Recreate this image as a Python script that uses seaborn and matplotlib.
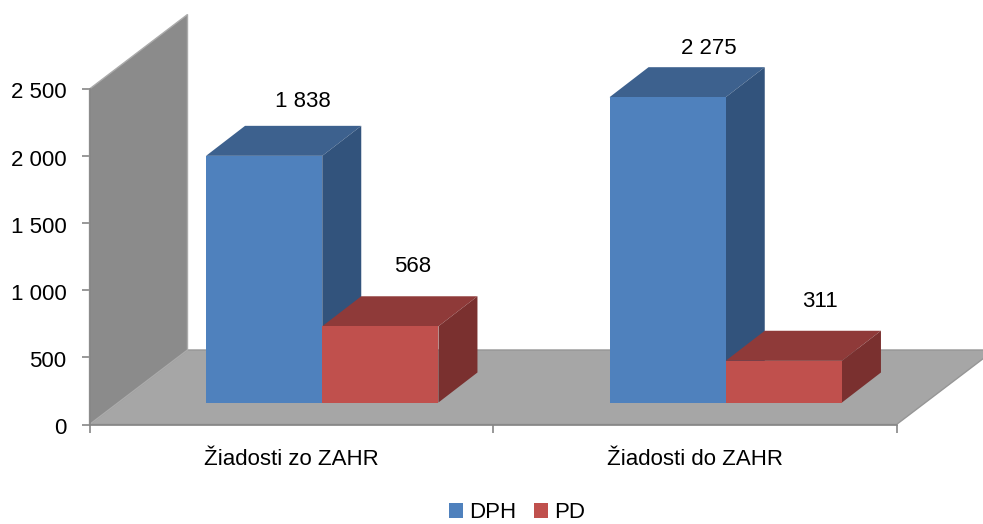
import numpy as np
import pandas as pd
import matplotlib
matplotlib.use('Agg')
import matplotlib.pyplot as plt
import seaborn as sns
from matplotlib.patches import Polygon
from matplotlib.transforms import ScaledTranslation

categories = ['Žiadosti zo ZAHR', 'Žiadosti do ZAHR']
dph_values = [1838, 2275]
pd_values = [568, 311]
series_names = ['DPH', 'PD']
y_ticks = [0, 500, 1000, 1500, 2000, 2500]

df = pd.DataFrame({
    'category': categories * 2,
    'series': [series_names[0]] * 2 + [series_names[1]] * 2,
    'value': dph_values + pd_values,
})


def spaced(v):
    return f'{int(v):,}'.replace(',', ' ')


sns.set_theme(style='white')
plt.rcParams['font.family'] = ['Liberation Sans', 'DejaVu Sans']

W, H = 983, 524
fig = plt.figure(figsize=(W / 100, H / 100), dpi=100)
ax = fig.add_axes([89.5 / W, 1 - 424.5 / H, 807 / W, 335.5 / H])

colors = {'DPH': '#4F81BD', 'PD': '#C0504D'}
top_colors = {'DPH': '#3D618E', 'PD': '#8F3A39'}
side_colors = {'DPH': '#32537C', 'PD': '#7A302F'}

sns.barplot(data=df, x='category', y='value', hue='series', order=categories,
            hue_order=series_names, palette=colors, width=0.576, gap=0,
            saturation=1, linewidth=0, ax=ax)
ax.set_xlim(-0.5, 1.5)
ax.set_ylim(0, 2500)

# px to data units, the 3d look is only pixel offsets
px_x = 2 / 807
px_y = 2500 / 335.5
wall_dx, wall_dy = 98 * px_x, 74.5 * px_y
bar_dx, bar_dy = 39 * px_x, 30 * px_y
front_dx, front_dy = 31 * px_x, 22 * px_y

x0, x1 = -0.5, 1.5
floor = Polygon([(x0, 0), (x1, 0), (x1 + wall_dx, wall_dy), (x0 + wall_dx, wall_dy)],
                closed=True, facecolor='#A6A6A6', edgecolor='#969696', lw=1,
                clip_on=False, zorder=1)
wall = Polygon([(x0, 0), (x0, 2500), (x0 + wall_dx, 2500 + wall_dy), (x0 + wall_dx, wall_dy)],
               closed=True, facecolor='#8B8B8B', edgecolor='#ABABAB', lw=1,
               clip_on=False, zorder=1)
ax.add_patch(floor)
ax.add_patch(wall)

# label nudges in px, the labels were moved by hand in the original
nudges = {('DPH', 0): (0, 24), ('DPH', 1): (2, 19), ('PD', 0): (-7, 30), ('PD', 1): (-3, 29)}

bars = [b for c in ax.containers for b in c]
names = [s for s in series_names for _ in categories]
order = sorted(range(len(bars)), key=lambda i: bars[i].get_x())
for n, i in enumerate(order):
    bar = bars[i]
    name = names[i]
    cat = int(round(bar.get_x() + bar.get_width() / 2))
    h = bar.get_height()
    left = bar.get_x() + front_dx
    right = left + bar.get_width()
    base = front_dy
    z = 3 + n * 0.1
    bar.set_x(left)
    bar.set_y(base)
    bar.set_clip_on(False)
    bar.set_zorder(z + 0.02)
    ax.add_patch(Polygon([(left, base + h), (right, base + h),
                          (right + bar_dx, base + h + bar_dy), (left + bar_dx, base + h + bar_dy)],
                         closed=True, facecolor=top_colors[name], edgecolor='none',
                         clip_on=False, zorder=z))
    ax.add_patch(Polygon([(right, base), (right + bar_dx, base + bar_dy),
                          (right + bar_dx, base + h + bar_dy), (right, base + h)],
                         closed=True, facecolor=side_colors[name], edgecolor='none',
                         clip_on=False, zorder=z + 0.01))
    nx, ny = nudges[(name, cat)]
    ax.text((left + right) / 2 + bar_dx + nx * px_x, base + h + bar_dy + ny * px_y, spaced(h),
            ha='center', va='center', fontsize=16, color='black', zorder=6, clip_on=False)

sns.despine(ax=ax, top=True, right=True)
for s in ['left', 'bottom']:
    ax.spines[s].set_color('#868686')
    ax.spines[s].set_linewidth(1.2)
    ax.spines[s].set_zorder(2)

ax.set_yticks(y_ticks)
ax.set_yticklabels([spaced(v) for v in y_ticks])
ax.set_xticks([-0.5, 0.5, 1.5], minor=True)
ax.tick_params(axis='y', left=True, length=5.5, width=1.2, color='#868686', pad=11, labelsize=16, labelcolor='black')
ax.tick_params(axis='x', which='major', bottom=False, length=0, pad=17.5, labelsize=16, labelcolor='black')
ax.tick_params(axis='x', which='minor', bottom=True, length=5.5, width=1.2, color='#868686')
ax.set_xlabel('')
ax.set_ylabel('')
ax.patch.set_alpha(0)

down = ScaledTranslation(0, -1.5 / 100, fig.dpi_scale_trans)
for label in ax.get_yticklabels():
    label.set_transform(label.get_transform() + down)

handles, labels = ax.get_legend_handles_labels()
ax.get_legend().remove()
fig.legend(handles, labels, loc='center', bbox_to_anchor=(517 / W, 1 - 512.5 / H), ncol=2,
           frameon=False, fontsize=16, labelcolor='black', handlelength=0.65, handleheight=0.65,
           handletextpad=0.27, columnspacing=0.77, borderpad=0, borderaxespad=0)

fig.savefig('out.png', dpi=100)
